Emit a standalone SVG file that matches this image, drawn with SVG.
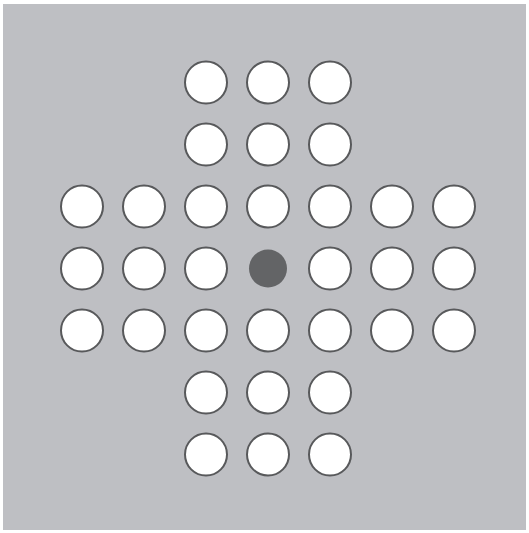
<svg xmlns="http://www.w3.org/2000/svg" width="529" height="533" viewBox="0 0 529 533">
<style>
.bg{fill:#bebfc3}
.hole{fill:#ffffff;stroke:#58595b;stroke-width:2}
.empty{fill:#636466}
</style>
<rect width="529" height="533" fill="#ffffff"/>
<rect class="bg" x="3" y="4" width="523" height="526"/>
<g id="board">
<g id="r1"><circle class="hole" cx="206" cy="82.5" r="21"/><circle class="hole" cx="268" cy="82.5" r="21"/><circle class="hole" cx="330" cy="82.5" r="21"/></g>
<g id="r2"><circle class="hole" cx="206" cy="144.5" r="21"/><circle class="hole" cx="268" cy="144.5" r="21"/><circle class="hole" cx="330" cy="144.5" r="21"/></g>
<g id="r3"><circle class="hole" cx="82" cy="206.5" r="21"/><circle class="hole" cx="144" cy="206.5" r="21"/><circle class="hole" cx="206" cy="206.5" r="21"/><circle class="hole" cx="268" cy="206.5" r="21"/><circle class="hole" cx="330" cy="206.5" r="21"/><circle class="hole" cx="392" cy="206.5" r="21"/><circle class="hole" cx="454" cy="206.5" r="21"/></g>
<g id="r4"><circle class="hole" cx="82" cy="268.5" r="21"/><circle class="hole" cx="144" cy="268.5" r="21"/><circle class="hole" cx="206" cy="268.5" r="21"/><circle class="empty" cx="268" cy="268.5" r="19"/><circle class="hole" cx="330" cy="268.5" r="21"/><circle class="hole" cx="392" cy="268.5" r="21"/><circle class="hole" cx="454" cy="268.5" r="21"/></g>
<g id="r5"><circle class="hole" cx="82" cy="330.5" r="21"/><circle class="hole" cx="144" cy="330.5" r="21"/><circle class="hole" cx="206" cy="330.5" r="21"/><circle class="hole" cx="268" cy="330.5" r="21"/><circle class="hole" cx="330" cy="330.5" r="21"/><circle class="hole" cx="392" cy="330.5" r="21"/><circle class="hole" cx="454" cy="330.5" r="21"/></g>
<g id="r6"><circle class="hole" cx="206" cy="392.5" r="21"/><circle class="hole" cx="268" cy="392.5" r="21"/><circle class="hole" cx="330" cy="392.5" r="21"/></g>
<g id="r7"><circle class="hole" cx="206" cy="454.5" r="21"/><circle class="hole" cx="268" cy="454.5" r="21"/><circle class="hole" cx="330" cy="454.5" r="21"/></g>
</g>
</svg>
